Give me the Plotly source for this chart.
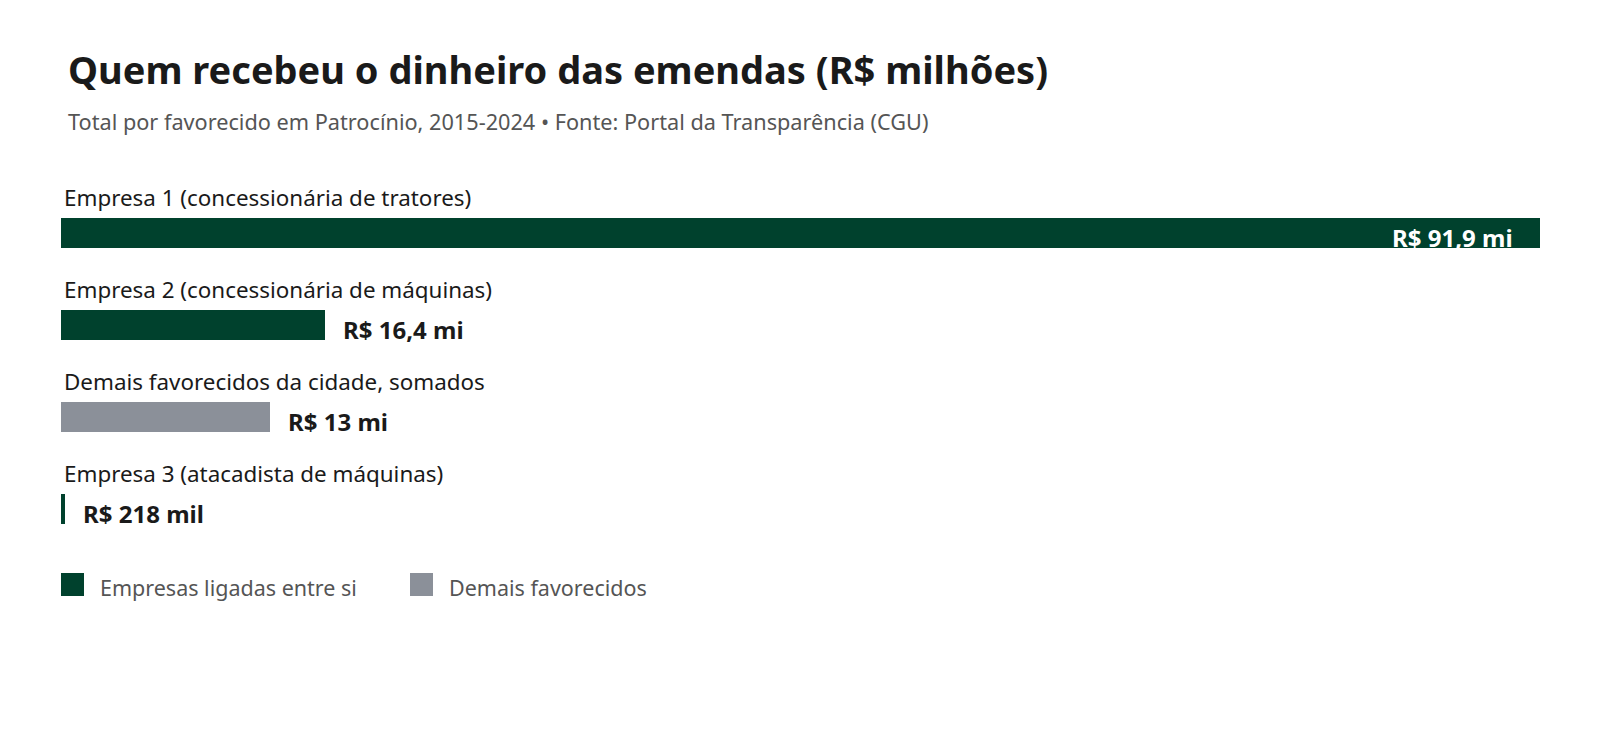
import plotly.graph_objects as go

# ---- data ----
categories = [
    "Empresa 1 (concessionária de tratores)",
    "Empresa 2 (concessionária de máquinas)",
    "Demais favorecidos da cidade, somados",
    "Empresa 3 (atacadista de máquinas)",
]
values = [91.9, 16.4, 13.0, 0.218]
value_labels = ["R$ 91,9 mi", "R$ 16,4 mi", "R$ 13 mi", "R$ 218 mil"]
groups = [
    "Empresas ligadas entre si",
    "Empresas ligadas entre si",
    "Demais favorecidos",
    "Empresas ligadas entre si",
]
legend_items = ["Empresas ligadas entre si", "Demais favorecidos"]
group_colors = {"Empresas ligadas entre si": "#00412d", "Demais favorecidos": "#8b9099"}

title = "Quem recebeu o dinheiro das emendas (R$ milhões)"
subtitle = "Total por favorecido em Patrocínio, 2015-2024 • Fonte: Portal da Transparência (CGU)"

FONT = "Noto Sans"
W_FIG, H_FIG = 1600, 748
L, R, T, B = 61, 60, 187, 193
PW = W_FIG - L - R
PH = H_FIG - T - B


def px(xp):
    return (xp - L) / PW


def py(yp):
    return 1 - (yp - T) / PH


ypos = list(range(len(categories)))

fig = go.Figure()
fig.add_trace(
    go.Bar(
        x=values,
        y=ypos,
        orientation="h",
        width=0.326,
        marker=dict(color=[group_colors[g] for g in groups], line=dict(width=0)),
        hovertext=categories,
        hoverinfo="text+x",
        showlegend=False,
    )
)

annotations = []
vmax = max(values)
for i, (cat, v, lab) in enumerate(zip(categories, values, value_labels)):
    annotations.append(
        dict(
            x=0, y=i, xref="x", yref="y", text=cat, showarrow=False,
            xanchor="left", yanchor="middle", xshift=1, yshift=36,
            font=dict(family=FONT, size=22.4, color="#1a1a1a"),
        )
    )
    inside = v > 0.5 * vmax
    annotations.append(
        dict(
            x=v, y=i, xref="x", yref="y", text="<b>" + lab + "</b>", showarrow=False,
            xanchor="right" if inside else "left", yanchor="middle",
            xshift=-25 if inside else 16, yshift=-4,
            font=dict(family=FONT, size=24, color="#ffffff" if inside else "#1a1a1a"),
        )
    )

# title & subtitle
annotations.append(
    dict(
        x=px(66), y=py(69), xref="paper", yref="paper", text="<b>" + title + "</b>",
        showarrow=False, xanchor="left", yanchor="middle",
        font=dict(family=FONT, size=38, color="#1a1a1a"),
    )
)
annotations.append(
    dict(
        x=px(66), y=py(121), xref="paper", yref="paper", text=subtitle,
        showarrow=False, xanchor="left", yanchor="middle",
        font=dict(family=FONT, size=21.7, color="#555555"),
    )
)

# legend (drawn)
shapes = []
leg_x = [61, 410]
for name, x0 in zip(legend_items, leg_x):
    shapes.append(
        dict(
            type="rect", xref="paper", yref="paper",
            x0=px(x0), x1=px(x0 + 23), y0=py(596), y1=py(573),
            fillcolor=group_colors[name], line=dict(width=0),
        )
    )
    annotations.append(
        dict(
            x=px(x0 + 37), y=py(587), xref="paper", yref="paper", text=name,
            showarrow=False, xanchor="left", yanchor="middle",
            font=dict(family=FONT, size=21.5, color="#555555"),
        )
    )

fig.update_layout(
    width=W_FIG,
    height=H_FIG,
    margin=dict(l=L, r=R, t=T, b=B, pad=0),
    paper_bgcolor="white",
    plot_bgcolor="white",
    xaxis=dict(range=[0, vmax], visible=False, fixedrange=True),
    yaxis=dict(range=[len(categories) - 0.5, -0.5], visible=False, fixedrange=True),
    annotations=annotations,
    shapes=shapes,
    font=dict(family=FONT),
    bargap=0,
)

fig.write_html("out.html")
